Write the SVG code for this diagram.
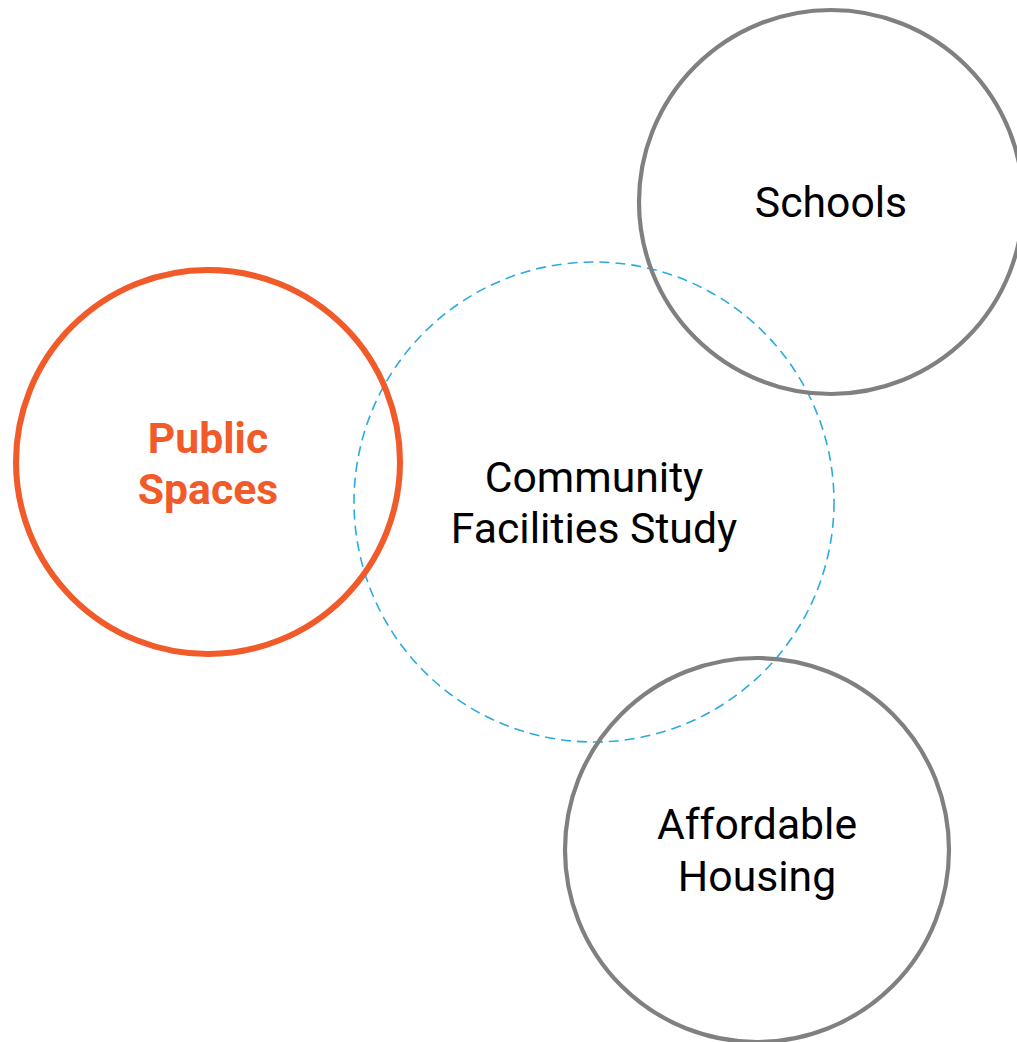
<svg xmlns="http://www.w3.org/2000/svg" width="1017" height="1042" viewBox="0 0 1017 1042">
<style>
.lbl{font-family:Roboto,"Liberation Sans",sans-serif;font-size:42.7px;text-anchor:middle;fill:#000}
.gray{fill:none;stroke:#808080;stroke-width:4.2}
</style>
<rect width="1017" height="1042" fill="#fff"/>
<g id="community">
<circle cx="594" cy="502" r="240" fill="none" stroke="#29ABE2" stroke-width="1.6" stroke-dasharray="10 6"/>
<text class="lbl" x="594" y="492">Community</text>
<text class="lbl" x="594" y="543">Facilities Study</text>
</g>
<g id="public-spaces">
<circle cx="208" cy="462" r="192" fill="none" stroke="#F15A29" stroke-width="6"/>
<text class="lbl" x="208" y="453" style="fill:#F15A29;font-weight:bold">Public</text>
<text class="lbl" x="208" y="504" style="fill:#F15A29;font-weight:bold">Spaces</text>
</g>
<g id="schools">
<circle class="gray" cx="831" cy="202" r="192"/>
<text class="lbl" x="831" y="217">Schools</text>
</g>
<g id="affordable-housing">
<circle class="gray" cx="757" cy="850" r="192"/>
<text class="lbl" x="757" y="839">Affordable</text>
<text class="lbl" x="757" y="891">Housing</text>
</g>
<g id="connectors"></g>
</svg>
